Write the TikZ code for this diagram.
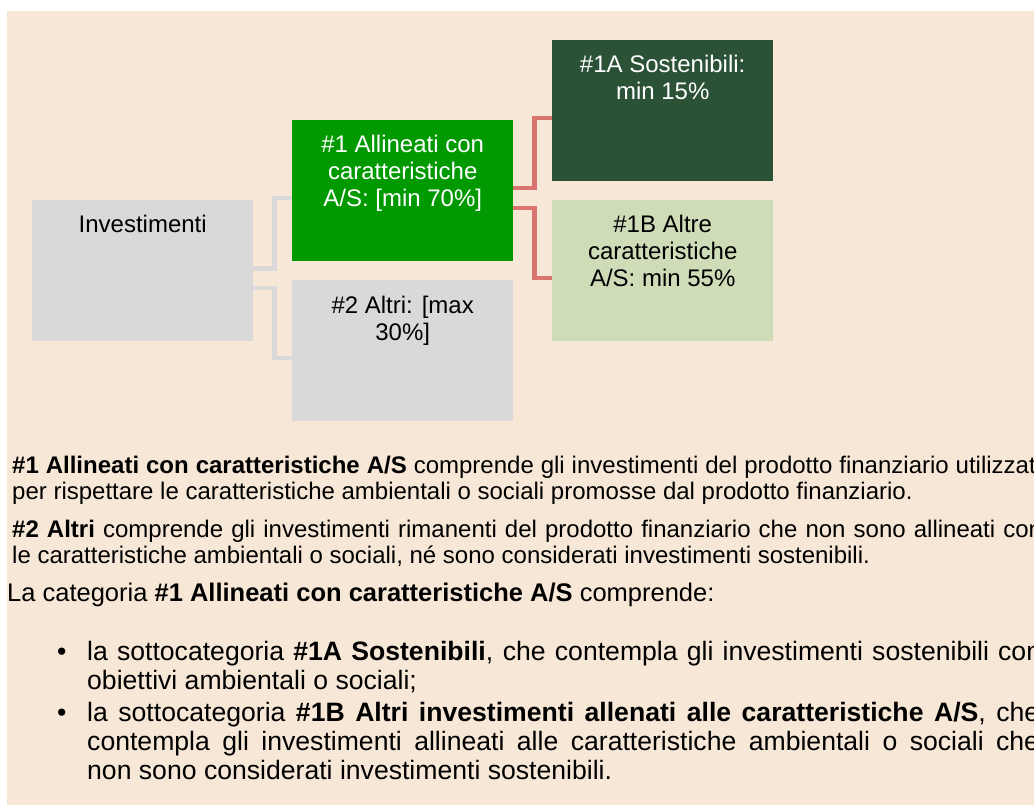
\documentclass[tikz,border=0pt]{standalone}
\usepackage{fontspec}
\setmainfont{Liberation Sans}
\definecolor{bg}{HTML}{F7E7D6}
\definecolor{gbox}{HTML}{D9D9D9}
\definecolor{greenbox}{HTML}{009900}
\definecolor{darkbox}{HTML}{2B5137}
\definecolor{lightbox}{HTML}{CFDCB8}
\definecolor{redline}{HTML}{D9756E}
\begin{document}
\begin{tikzpicture}[x=1pt,y=-1pt,
  box/.style={rectangle, inner sep=0pt, minimum width=221pt, minimum height=141pt, anchor=north west},
  boxtext/.style={anchor=base, inner sep=0pt, font=\fontsize{24}{27}\selectfont},
  conn/.style={line width=4.5pt},
  para/.style={anchor=base west, inner sep=0pt, font=\fontsize{24}{26.5}\selectfont},
  bul/.style={anchor=base west, inner sep=0pt, font=\fontsize{26.6}{29}\selectfont}]
\useasboundingbox (0,0) rectangle (1034,805);
\clip (0,0) rectangle (1034,805);
\fill[bg] (7,11) rectangle (1034,805);
% nodes (geometry)
\node[box] (inv) at (32,200) {};
\node[box] (n1) at (292,120) {};
\node[box] (n2) at (292,280) {};
\node[box] (n1a) at (552,40) {};
\node[box] (n1b) at (552,200) {};
% connectors
\draw[conn, gbox] ([yshift=2pt]inv.east) -- ++(21,0) |- ([yshift=-7.5pt]n1.west);
\draw[conn, gbox] ([yshift=-17.5pt]inv.east) -- ++(21,0) |- ([yshift=-7.5pt]n2.west);
\draw[conn, redline] ([yshift=2.5pt]n1.east) -- ++(21,0) |- ([yshift=-7.5pt]n1a.west);
\draw[conn, redline] ([yshift=-17.5pt]n1.east) -- ++(21,0) |- ([yshift=-7.5pt]n1b.west);
% boxes
\fill[gbox] (inv.north west) rectangle (inv.south east);
\fill[greenbox] (n1.north west) rectangle (n1.south east);
\fill[gbox] (n2.north west) rectangle (n2.south east);
\fill[darkbox] (n1a.north west) rectangle (n1a.south east);
\fill[lightbox] (n1b.north west) rectangle (n1b.south east);
\node[boxtext] (tinv) at ([yshift=-33pt]inv.north) {Investimenti};
\node[boxtext, text=white] (tn1) at ([yshift=-33pt]n1.north) {\begin{tabular}[t]{@{}c@{}}\#1 Allineati con\\caratteristiche\\A/S: [min 70\%]\end{tabular}};
\node[boxtext] (tn2) at ([yshift=-33pt]n2.north) {\begin{tabular}[t]{@{}c@{}}\#2 Altri: [max\\30\%]\end{tabular}};
\node[boxtext, text=white] (tn1a) at ([yshift=-33pt]n1a.north) {\begin{tabular}[t]{@{}c@{}}\#1A Sostenibili:\\min 15\%\end{tabular}};
\node[boxtext] (tn1b) at ([yshift=-33pt]n1b.north) {\begin{tabular}[t]{@{}c@{}}\#1B Altre\\caratteristiche\\A/S: min 55\%\end{tabular}};
% text
\node[para] (p1) at (12,473) {\parbox[t]{1029pt}{\textbf{\#1 Allineati con caratteristiche A/S} comprende gli investimenti del prodotto finanziario utilizzati\linebreak per rispettare le caratteristiche ambientali o sociali promosse dal prodotto finanziario.}};
\node[para] (p2) at (12,537) {\parbox[t]{1030pt}{\textbf{\#2 Altri} comprende gli investimenti rimanenti del prodotto finanziario che non sono allineati con\linebreak le caratteristiche ambientali o sociali, né sono considerati investimenti sostenibili.}};
\node[anchor=base west, inner sep=0pt, font=\fontsize{25.5}{29}\selectfont] (p3) at (7,601) {La categoria \textbf{\#1 Allineati con caratteristiche A/S} comprende:};
\node[bul] (d1) at (57,660) {•};
\node[bul] (b1) at (87,660) {\parbox[t]{954pt}{la sottocategoria \textbf{\#1A Sostenibili}, che contempla gli investimenti sostenibili con\linebreak obiettivi ambientali o sociali;}};
\node[bul] (d2) at (57,721) {•};
\node[bul] (b2) at (87,721) {\parbox[t]{952pt}{la sottocategoria \textbf{\#1B Altri investimenti allenati alle caratteristiche A/S}, che\linebreak contempla gli investimenti allineati alle caratteristiche ambientali o sociali che\linebreak non sono considerati investimenti sostenibili.}};
\end{tikzpicture}
\end{document}
